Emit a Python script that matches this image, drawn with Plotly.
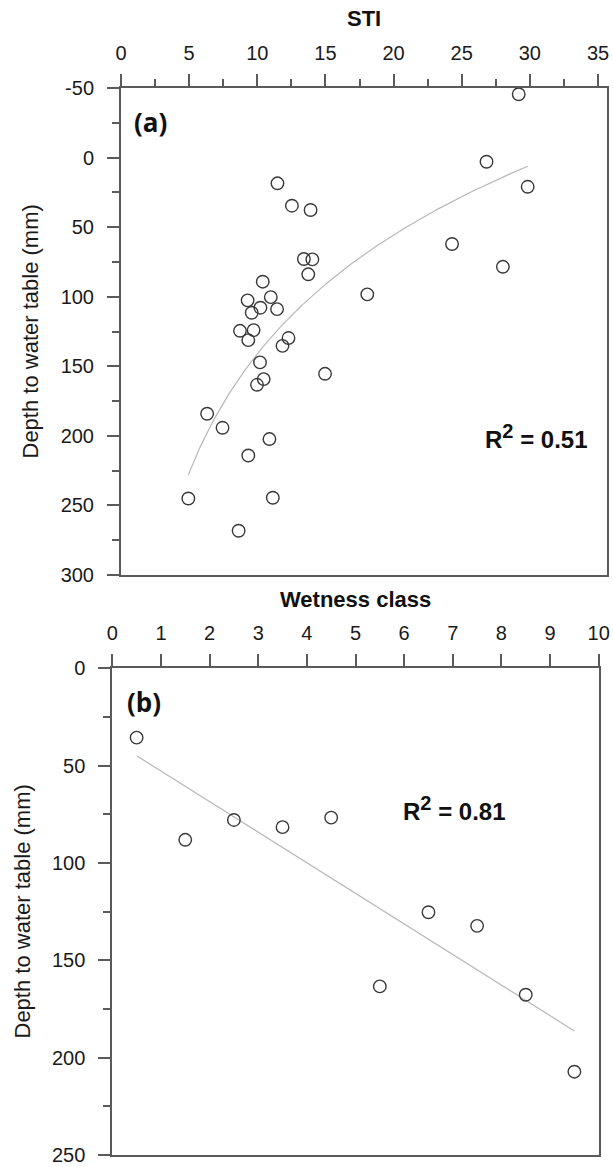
import numpy as np
import plotly.graph_objects as go

# Panel (a): slope-to-topography index against depth to water table
sti = [11.48, 12.54, 13.91, 13.42, 14.04, 13.74, 10.40, 9.29, 10.99, 9.59,
       10.23, 11.45, 8.73, 9.73, 9.34, 12.29, 11.85, 10.20, 10.47, 9.98,
       14.97, 6.32, 7.45, 10.89, 9.34, 4.94, 11.14, 8.63, 29.18, 26.82,
       29.84, 24.29, 28.02, 18.07]
depth_a = [18.5, 34.6, 37.7, 72.9, 73.2, 83.9, 89.2, 102.6, 100.3, 111.5,
           107.9, 108.9, 124.5, 124.0, 131.2, 129.7, 135.3, 147.2, 159.2, 163.3,
           155.4, 184.1, 194.2, 202.3, 214.1, 245.0, 244.5, 268.2, -45.5, 3.0,
           21.0, 62.1, 78.5, 98.3]

# Panel (b): wetness class against depth to water table
wetness_class = [0.5, 1.5, 2.5, 3.5, 4.5, 5.5, 6.5, 7.5, 8.5, 9.5]
depth_b = [35.6, 88.1, 77.9, 81.6, 76.7, 163.4, 125.3, 132.3, 167.7, 207.2]

r2_a = 0.51
r2_b = 0.81

sti_ticks = [0, 5, 10, 15, 20, 25, 30, 35]
depth_a_ticks = [-50, 0, 50, 100, 150, 200, 250, 300]
wet_ticks = list(range(0, 11))
depth_b_ticks = [0, 50, 100, 150, 200, 250]

W, H = 613, 1167
AX = "#5a5a5a"
FONT = "Liberation Sans, Arial, sans-serif"
TXT = "#1a1a1a"

fig = go.Figure()

marker = dict(symbol="circle-open", size=12.5, color="#383838", line=dict(width=1.4))
trend = dict(color="#b8b8b8", width=1.2)

# (a) logarithmic trend fitted to the observations
ca = np.polyfit(np.log(sti), depth_a, 1)
xa = np.linspace(min(sti), max(sti), 200)
fig.add_trace(go.Scatter(x=xa, y=ca[0] * np.log(xa) + ca[1], mode="lines",
                         line=trend, xaxis="x", yaxis="y", hoverinfo="skip"))
fig.add_trace(go.Scatter(x=sti, y=depth_a, mode="markers", marker=marker,
                         xaxis="x", yaxis="y"))

# (b) linear trend fitted to the observations
cb = np.polyfit(wetness_class, depth_b, 1)
xb = np.array([min(wetness_class), max(wetness_class)])
fig.add_trace(go.Scatter(x=xb, y=cb[0] * xb + cb[1], mode="lines",
                         line=trend, xaxis="x2", yaxis="y2", hoverinfo="skip"))
fig.add_trace(go.Scatter(x=wetness_class, y=depth_b, mode="markers", marker=marker,
                         xaxis="x2", yaxis="y2"))


def axis_style(standoff, **kw):
    base = dict(showgrid=False, zeroline=False, showline=True, linecolor=AX,
                linewidth=2, mirror=True, ticks="outside", ticklen=12,
                tickwidth=1.5, tickcolor=AX, ticklabelstandoff=standoff,
                automargin=False,
                tickfont=dict(family=FONT, size=20, color=TXT))
    base.update(kw)
    return base


def minor(step):
    return dict(ticks="outside", ticklen=7, tickwidth=1.5, tickcolor=AX,
                tickmode="linear", tick0=0, dtick=step)


fig.update_layout(
    width=W, height=H,
    margin=dict(l=0, r=0, t=0, b=0, autoexpand=False),
    paper_bgcolor="white", plot_bgcolor="white", showlegend=False,
    xaxis=axis_style(6, domain=[121 / W, 607 / W], anchor="y", side="top",
                     range=[0, 35.66], tickmode="array", tickvals=sti_ticks,
                     minor=minor(2.5)),
    yaxis=axis_style(9, domain=[1 - 575 / H, 1 - 88 / H], anchor="x",
                     range=[300, -50], tickmode="array", tickvals=depth_a_ticks,
                     ticktext=[str(v) for v in depth_a_ticks], minor=minor(25)),
    xaxis2=axis_style(6, domain=[112.3 / W, 598.7 / W], anchor="y2", side="top",
                      range=[0, 10], tickmode="array", tickvals=wet_ticks),
    yaxis2=axis_style(9, domain=[1 - 1155 / H, 1 - 668.3 / H], anchor="x2",
                      range=[250, 0], tickmode="array", tickvals=depth_b_ticks,
                      minor=minor(25)),
)

bold = dict(family=FONT, size=22, color="#111111")
ytitle = dict(family=FONT, size=22, color=TXT)
panel = dict(family="Open Sans, sans-serif", size=26, color="#111111")
r2font = dict(family=FONT, size=24, color="#111111")
sup2 = '<sup><span style="font-size:20px">2</span></sup>'
ann = [
    dict(text="<b>STI</b>", x=364 / W, y=1 - 18 / H, font=bold),
    dict(text="<b>Wetness class</b>", x=355.5 / W, y=1 - 599 / H, font=bold),
    dict(text="Depth to water table (mm)", x=30 / W, y=1 - 331.5 / H,
         textangle=-90, font=ytitle),
    dict(text="Depth to water table (mm)", x=22 / W, y=1 - 911.5 / H,
         textangle=-90, font=ytitle),
    dict(text="<b>(a)</b>", x=150 / W, y=1 - 122 / H, font=panel),
    dict(text="<b>(b)</b>", x=144 / W, y=1 - 702 / H, font=panel),
    dict(text=f"<b>R{sup2} = {r2_a:.2f}</b>", x=536 / W, y=1 - 436 / H,
         font=r2font),
    dict(text=f"<b>R{sup2} = {r2_b:.2f}</b>", x=455 / W, y=1 - 808 / H,
         font=r2font),
]
for a in ann:
    fig.add_annotation(xref="paper", yref="paper", showarrow=False,
                       xanchor="center", yanchor="middle", **a)

fig.write_html("out.html")
